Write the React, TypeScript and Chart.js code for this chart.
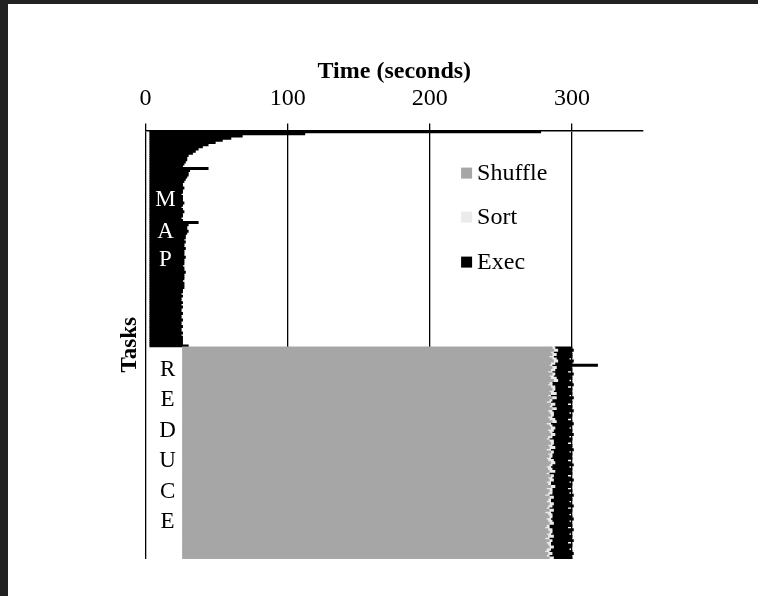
import React, { useEffect, useRef } from "react";
import { Chart, registerables } from "chart.js";

Chart.register(...registerables);

const SERIF = "'Liberation Serif', 'Times New Roman', serif";

// Map tasks: execution end time (seconds), one per task, top to bottom
const mapStart = 3;
const mapEnd = [
  278, 112, 68, 60, 54, 49, 44, 40, 37, 35,
  33, 30, 29, 29, 28, 27, 26, 44, 31, 30,
  30, 29, 28, 27, 26, 26, 27, 26, 26, 25,
  26, 26, 26, 27, 26, 25, 26, 27, 26, 26,
  25, 26, 37, 30, 29, 29, 30, 29, 28, 28,
  27, 28, 27, 27, 28, 27, 27, 27, 28, 27,
  27, 27, 26, 27, 27, 28, 27, 27, 27, 26,
  27, 27, 27, 26, 26, 25, 26, 25, 25, 26,
  25, 26, 25, 25, 26, 25, 25, 26, 25, 25,
  26, 25, 25, 26, 25, 26, 26, 26, 26, 30,
];

// Reduce tasks: shuffle starts, then shuffle/sort/exec end times
const reduceStart = 26;
const shuffleEnd = [
  286, 287, 285, 286, 284, 286, 287, 285, 284, 286,
  285, 283, 286, 284, 285, 287, 284, 283, 285, 286,
  284, 285, 283, 286, 284, 282, 285, 284, 286, 283,
  284, 285, 283, 284, 286, 282, 284, 285, 283, 284,
  285, 283, 282, 284, 285, 283, 284, 282, 285, 283,
  284, 282, 283, 285, 284, 282, 283, 284, 282, 285,
  283, 284, 282, 283, 285, 282, 284, 283, 281, 284,
  283, 282, 284, 283, 282, 284, 281, 283, 284, 282,
  283, 284, 282, 281, 283, 284, 282, 283, 281, 284,
  282, 283, 284, 282, 281, 283, 282, 284,
];
const sortEnd = [
  288, 290, 287, 289, 287, 289, 290, 288, 286, 289,
  288, 286, 288, 287, 289, 290, 286, 286, 288, 288,
  287, 289, 285, 289, 286, 285, 288, 286, 289, 286,
  287, 287, 286, 288, 289, 285, 286, 288, 287, 286,
  288, 286, 284, 287, 287, 286, 288, 285, 287, 286,
  286, 285, 287, 288, 286, 285, 286, 288, 284, 287,
  286, 287, 285, 285, 288, 286, 286, 286, 284, 287,
  285, 285, 287, 286, 284, 287, 285, 286, 286, 285,
  286, 287, 284, 284, 286, 286, 285, 287, 284, 286,
  285, 285, 287, 285, 284, 286, 284, 287,
];
const execEnd = [
  300, 301, 299, 300, 300, 298, 301, 300, 318, 299,
  300, 297, 301, 299, 300, 298, 300, 301, 297, 300,
  299, 300, 298, 301, 299, 300, 297, 300, 299, 301,
  298, 300, 299, 297, 300, 301, 299, 298, 300, 299,
  301, 298, 300, 299, 297, 300, 299, 301, 298, 300,
  299, 300, 297, 299, 301, 298, 300, 299, 300, 297,
  299, 301, 298, 300, 299, 297, 300, 298, 301, 299,
  300, 298, 299, 301, 297, 300, 299, 298, 300, 301,
  298, 299, 300, 297, 301, 299, 298, 300, 299, 301,
  297, 300, 299, 298, 300, 301, 299, 300,
];

const seriesNames = ["Shuffle", "Sort", "Exec"];
const seriesColors = ["#a6a6a6", "#ebebeb", "#000000"];
const xTicks = [0, 100, 200, 300];
const mapLetters = ["M", "A", "P"];
const reduceLetters = ["R", "E", "D", "U", "C", "E"];

const overlayPlugin = {
  id: "overlayText",
  afterDatasetsDraw(chart: any) {
    const { ctx, chartArea, scales } = chart;
    const xs = scales.x;
    ctx.save();
    // legend
    const legendOffsets = [43, 87, 132];
    ctx.font = `24px ${SERIF}`;
    ctx.textBaseline = "middle";
    ctx.textAlign = "left";
    const bx = xs.getPixelForValue(222);
    chart.data.datasets.forEach((ds: any, i: number) => {
      const y = chartArea.top + legendOffsets[i];
      ctx.fillStyle = ds.backgroundColor;
      ctx.fillRect(bx, y - 6, 11, 11);
      ctx.fillStyle = "#000";
      ctx.fillText(ds.label, bx + 16, y);
    });
    // MAP / REDUCE letters
    ctx.font = `23px ${SERIF}`;
    ctx.textAlign = "center";
    ctx.fillStyle = "#ffffff";
    const mapY = [69, 101, 129];
    mapLetters.forEach((l, i) => {
      ctx.fillText(l, xs.getPixelForValue(14), chartArea.top + mapY[i]);
    });
    ctx.fillStyle = "#000000";
    reduceLetters.forEach((l, i) => {
      ctx.fillText(l, xs.getPixelForValue(15.5), chartArea.top + 239 + i * 30.5);
    });
    ctx.restore();
  },
};

export default function App() {
  const ref = useRef<HTMLCanvasElement>(null);

  useEffect(() => {
    const labels = [...mapEnd, ...shuffleEnd].map((_, i) => String(i + 1));
    const shuffleData: any[] = [
      ...mapEnd.map(() => null),
      ...shuffleEnd.map((e) => [reduceStart, e]),
    ];
    const sortData: any[] = [
      ...mapEnd.map(() => null),
      ...shuffleEnd.map((s, i) => [s, sortEnd[i]]),
    ];
    const execData: any[] = [
      ...mapEnd.map((e) => [mapStart, e]),
      ...sortEnd.map((s, i) => [s, execEnd[i]]),
    ];
    const common = {
      barPercentage: 1,
      categoryPercentage: 1,
      grouped: false,
      borderWidth: 0,
      borderSkipped: false,
      inflateAmount: 0.4,
    };
    const chart = new Chart(ref.current!, {
      type: "bar",
      data: {
        labels,
        datasets: [
          { label: seriesNames[0], data: shuffleData, backgroundColor: seriesColors[0], ...common },
          { label: seriesNames[1], data: sortData, backgroundColor: seriesColors[1], ...common },
          { label: seriesNames[2], data: execData, backgroundColor: seriesColors[2], ...common },
        ],
      } as any,
      options: {
        indexAxis: "y",
        animation: false,
        responsive: false,
        events: [],
        layout: { padding: { left: 102, top: 49, right: 115, bottom: 37 } },
        plugins: { legend: { display: false }, tooltip: { enabled: false } },
        scales: {
          x: {
            type: "linear",
            position: "top",
            min: 0,
            max: 350,
            afterBuildTicks: (scale: any) => {
              scale.ticks = xTicks.map((v) => ({ value: v }));
            },
            ticks: {
              color: "#000",
              font: { family: SERIF, size: 24 },
              padding: 10,
              maxRotation: 0,
            },
            grid: {
              color: "#000",
              lineWidth: 1.3,
              drawTicks: true,
              tickLength: 7,
              tickColor: "#000",
            },
            border: { display: true, color: "#000", width: 1.5 },
            title: {
              display: true,
              text: "Time (seconds)",
              color: "#000",
              font: { family: SERIF, size: 24, weight: "bold" },
              padding: { top: 4, bottom: -11 },
            },
          },
          y: {
            type: "category",
            ticks: { display: false },
            grid: { display: false, drawTicks: false },
            border: { display: false },
            title: {
              display: true,
              text: "Tasks",
              color: "#000",
              font: { family: SERIF, size: 23, weight: "bold" },
              padding: { top: 6, bottom: 2 },
            },
          },
        },
      } as any,
      plugins: [overlayPlugin],
    });
    return () => chart.destroy();
  }, []);

  return (
    <div
      style={{
        position: "fixed",
        left: 0,
        top: 0,
        width: 758,
        height: 596,
        background: "#222222",
      }}
    >
      <div
        style={{
          position: "absolute",
          left: 8,
          top: 4,
          width: 750,
          height: 592,
          background: "#ffffff",
        }}
      >
        <canvas ref={ref} width={750} height={592} style={{ display: "block" }} />
      </div>
    </div>
  );
}
